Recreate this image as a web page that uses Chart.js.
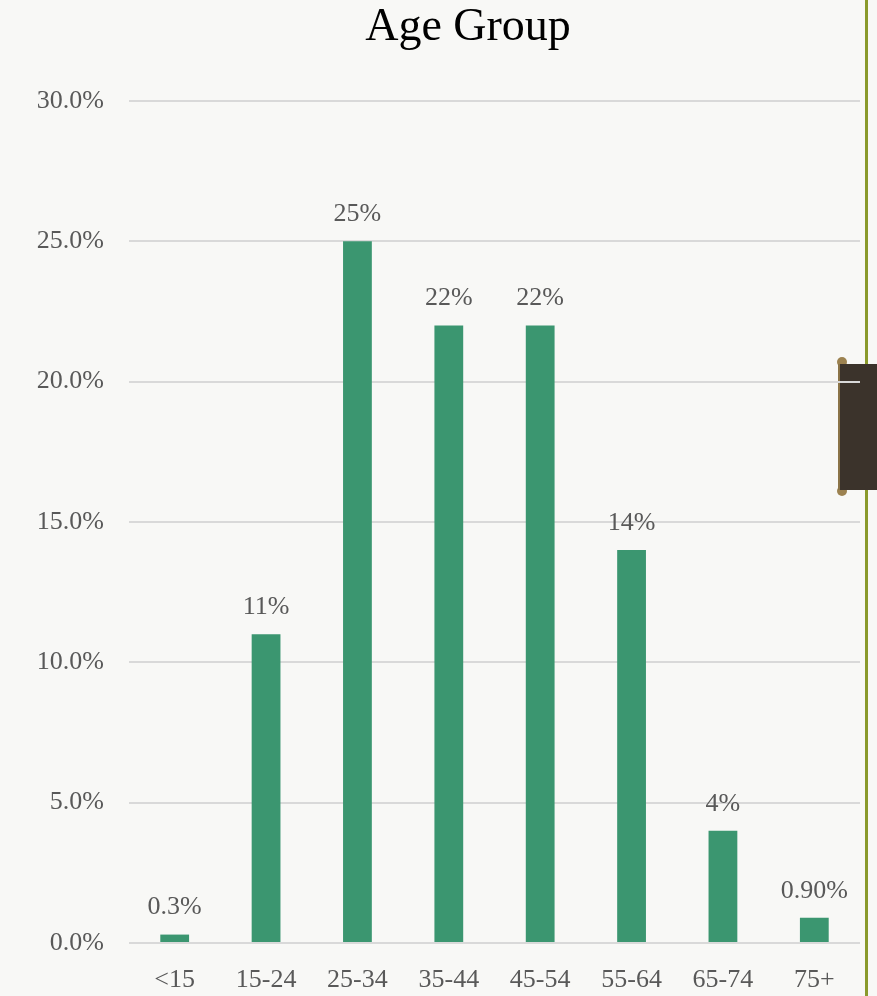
<!DOCTYPE html>
<html>
<head>
<meta charset="utf-8">
<script src="https://cdn.jsdelivr.net/npm/chart.js@4"></script>
<style>
html,body{margin:0;padding:0;background:#f8f8f6;}
#wrap{position:relative;width:877px;height:996px;overflow:hidden;}
canvas{position:absolute;left:0;top:0;}
#vline{position:absolute;left:865px;top:0;width:3px;height:996px;background:#8a9a2c;}
#tab{position:absolute;left:838px;top:364px;width:39px;height:126px;background:#3b332b;border-left:2px solid #8b7448;}
.cap{position:absolute;left:837px;width:10px;height:10px;border-radius:5px;background:#9c8250;}
</style>
</head>
<body>
<div id="wrap">
<div id="vline"></div>
<div class="cap" style="top:357px"></div>
<div class="cap" style="top:486px"></div>
<div id="tab"></div>
<canvas id="c" width="877" height="996"></canvas>
</div>
<script>
const categories = ["<15","15-24","25-34","35-44","45-54","55-64","65-74","75+"];
const values = [0.3, 11, 25, 22, 22, 14, 4, 0.9];
const valueLabels = ["0.3%","11%","25%","22%","22%","14%","4%","0.90%"];
const yTicks = [0, 5, 10, 15, 20, 25, 30];
const titleText = "Age Group";

const FONT = "'Liberation Serif', 'DejaVu Serif', serif";

const dataLabelPlugin = {
  id: 'dataLabelPlugin',
  afterDatasetsDraw(chart) {
    const ctx = chart.ctx;
    const meta = chart.getDatasetMeta(0);
    ctx.save();
    ctx.font = "26px " + FONT;
    ctx.fillStyle = "#595959";
    ctx.textAlign = "center";
    ctx.textBaseline = "bottom";
    meta.data.forEach((bar, i) => {
      ctx.fillText(valueLabels[i], bar.x, bar.y - 14);
    });
    ctx.restore();
  }
};

const titlePlugin = {
  id: 'titlePlugin',
  afterDraw(chart) {
    const ctx = chart.ctx;
    ctx.save();
    ctx.font = "46px " + FONT;
    ctx.fillStyle = "#000";
    ctx.textAlign = "center";
    ctx.textBaseline = "alphabetic";
    ctx.fillText(titleText, 468, 40);
    ctx.restore();
  }
};

new Chart(document.getElementById('c'), {
  type: 'bar',
  data: {
    labels: categories,
    datasets: [{
      data: values,
      backgroundColor: '#3b9670',
      borderWidth: 0,
      barPercentage: 0.63,
      categoryPercentage: 0.5
    }]
  },
  options: {
    responsive: false,
    animation: false,
    devicePixelRatio: 1,
    layout: { padding: { left: 0, right: 17, top: 101, bottom: 0 } },
    plugins: {
      legend: { display: false },
      tooltip: { enabled: false },
      title: { display: false }
    },
    scales: {
      x: {
        afterFit(scale) { scale.height = 53; },
        grid: { display: false, drawTicks: false },
        border: { display: false },
        ticks: {
          color: '#595959',
          font: { family: FONT, size: 26 },
          padding: 22
        }
      },
      y: {
        min: 0,
        max: 30,
        afterFit(scale) { scale.width = 129; },
        afterBuildTicks(scale) { scale.ticks = yTicks.map(v => ({ value: v })); },
        grid: { color: '#d9d9d9', lineWidth: 2, drawTicks: false },
        border: { display: false },
        ticks: {
          color: '#595959',
          font: { family: FONT, size: 26 },
          padding: 25,
          callback: v => v.toFixed(1) + '%'
        }
      }
    }
  },
  plugins: [dataLabelPlugin, titlePlugin]
});
</script>
</body>
</html>
